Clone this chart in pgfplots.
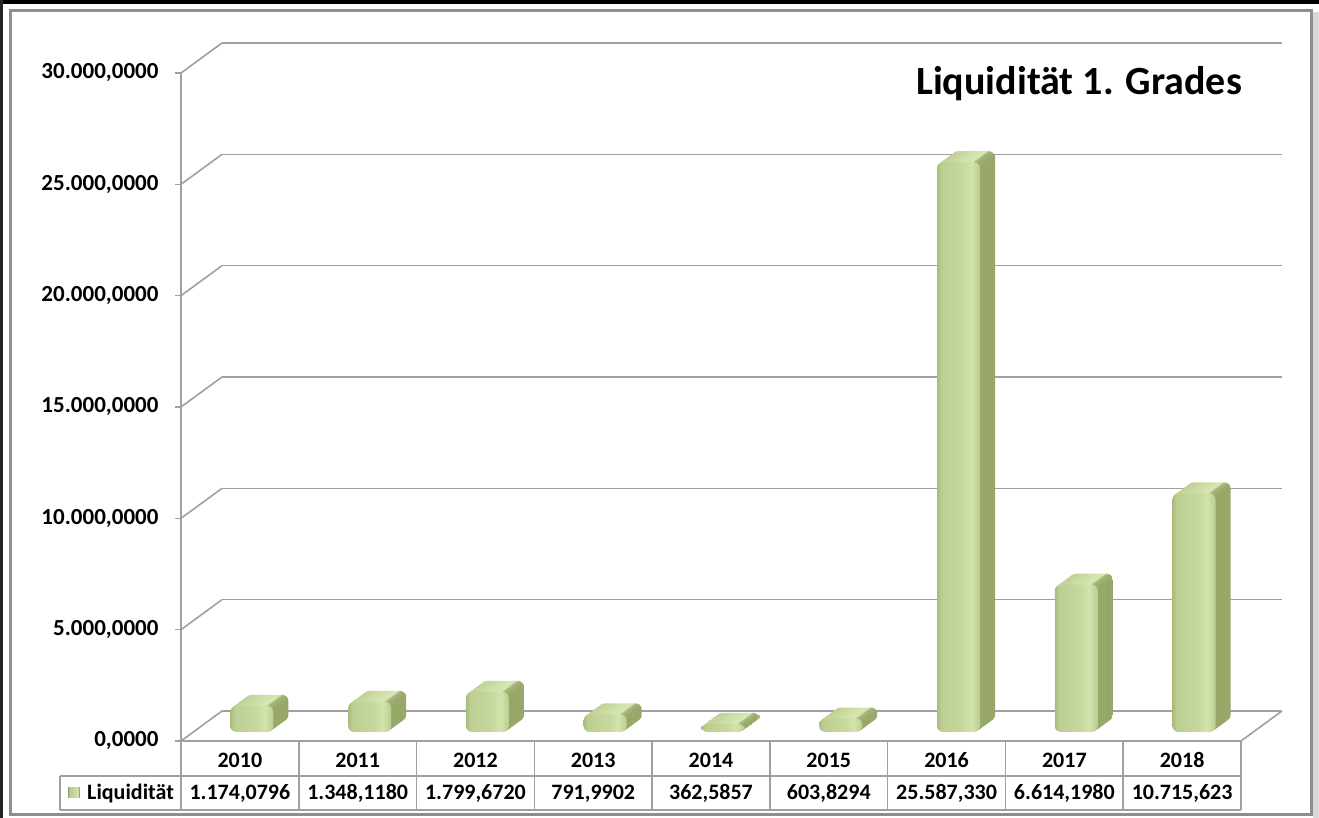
\documentclass[border=0pt]{standalone}
\usepackage{pgfplots}
\pgfplotsset{compat=1.18}
\usepackage{pgfplotstable}
\usepackage{fontspec}
\setmainfont{Carlito}
\definecolor{gridgray}{HTML}{A0A0A0}
\definecolor{framegray}{HTML}{8E8E8E}
\definecolor{fA}{HTML}{A8BC7C}
\definecolor{fB}{HTML}{BCCF91}
\definecolor{fC}{HTML}{C6D89D}
\definecolor{fD}{HTML}{D3E3AD}
\definecolor{fE}{HTML}{BACD8F}
\definecolor{bA}{HTML}{BED092}
\definecolor{bB}{HTML}{D2E2AD}
\definecolor{bC}{HTML}{D9E7B6}
\definecolor{bD}{HTML}{A9BB7D}
\definecolor{bE}{HTML}{93A465}
\pgfdeclarehorizontalshading{barfront}{100bp}{color(0bp)=(fA); color(25bp)=(fA); color(30bp)=(fB); color(55bp)=(fC); color(65bp)=(fD); color(75bp)=(fE); color(100bp)=(fE)}
\pgfdeclarehorizontalshading{barback}{100bp}{color(0bp)=(bA); color(25bp)=(bA); color(55bp)=(bB); color(65bp)=(bC); color(67bp)=(bD); color(75bp)=(bE); color(100bp)=(bE)}

\pgfplotstableread{
x y
0.5 1174.0796
1.5 1348.1180
2.5 1799.6720
3.5 791.9902
4.5 362.5857
5.5 603.8294
6.5 25587.330
7.5 6614.1980
8.5 10715.623
}\liqdata

\pgfplotsset{
  base3d/.style={anchor=south west, scale only axis, width=1060pt, height=668pt,
    xmin=0, xmax=9, ymin=0, ymax=30000, clip=false}
}

% one depth layer of the 3D bars (each bar its own plot so that it is shaded on its own)
\newcommand{\barlayer}[3]{%
  \begin{axis}[base3d, at={(#1pt,#2pt)}, hide axis]
    \pgfplotsinvokeforeach{0,...,8}{%
      \addplot[ybar, bar width=43pt, bar shift=0pt, draw=none, shading=#3,
        rounded corners=6pt, restrict x to domain=##1.4:##1.6]
        table[x=x, y=y] {\liqdata};
    }
  \end{axis}}

\begin{document}
\begin{tikzpicture}[x=1pt,y=1pt]
\useasboundingbox (0,0) rectangle (1319,818);
\fill[white] (0,0) rectangle (1319,818);
% outer black lines
\fill[black] (0,813.5) rectangle (1319,818);
\fill[black!85] (0,0) rectangle (3,818);
% frame with shadow
\fill[black!15] (1313,0) rectangle (1319,806);
\draw[framegray, line width=3pt] (10.5,3) rectangle (1311.5,807.5);

% back wall grid
\begin{axis}[base3d, at={(222pt,107pt)},
  axis line style={draw=none}, xtick=\empty, scaled y ticks=false,
  ytick={0,5000,...,30000}, yticklabels={}, major tick length=0pt,
  ymajorgrids, grid style={gridgray, line width=1.6pt}]
\end{axis}

% side wall diagonals and floor
\foreach \i in {0,...,6}
  \draw[gridgray, line width=1.6pt] (181,77+\i*111.33333) -- ++(41,30);
\draw[gridgray, line width=1.6pt] (1241,77) -- (1282,107);

% bars, drawn as depth layers from back to front
\foreach \k in {0,...,10}{%
  \pgfmathsetmacro\dx{208-1.3636*\k}%
  \pgfmathsetmacro\dy{97-\k}%
  \barlayer{\dx}{\dy}{barback}}
\barlayer{193}{86}{barfront}

% front axis with tick labels
\begin{axis}[base3d, at={(181pt,77pt)},
  axis x line=none, axis y line=left,
  axis line style={-, draw=gridgray, line width=1.6pt},
  xtick=\empty, scaled y ticks=false,
  ytick={0,5000,...,30000},
  yticklabels={{0,0000},{5.000,0000},{10.000,0000},{15.000,0000},{20.000,0000},{25.000,0000},{30.000,0000}},
  tick align=outside, major tick length=6pt,
  ytick style={draw=gridgray, line width=1.6pt},
  yticklabel style={font=\fontsize{23}{25}\selectfont\bfseries, text=black, xshift=-13pt}]
\end{axis}

% title
\node[anchor=base east, inner sep=0pt, font=\fontsize{40}{44}\selectfont\bfseries] at (1242,723) {Liquidität 1. Grades};

% data table
\def\cw{117.77778}
\draw[gridgray, line width=1.6pt] (181,77) -- (1241,77);
\draw[gridgray, line width=1.6pt] (60,42) -- (1241,42);
\draw[gridgray, line width=1.6pt] (60,8) -- (1241,8);
\draw[gridgray, line width=1.6pt] (60,8) -- (60,42);
\foreach \i in {0,...,9}
  \draw[gridgray, line width=1.6pt] (181+\i*\cw,8) -- (181+\i*\cw,77);
\foreach \yr [count=\i from 0] in {2010,2011,2012,2013,2014,2015,2016,2017,2018}
  \node[anchor=base, inner sep=0pt, font=\fontsize{22}{24}\selectfont\bfseries] at (181+\cw*\i+\cw/2,50) {\yr};
\foreach \v [count=\i from 0] in {{1.174,0796},{1.348,1180},{1.799,6720},{791,9902},{362,5857},{603,8294},{25.587,330},{6.614,1980},{10.715,623}}
  \node[anchor=base, inner sep=0pt, font=\fontsize{22}{24}\selectfont\bfseries] at (181+\cw*\i+\cw/2,18) {\v};
\fill[bE] (68,20) rectangle (80,31);
\shade[shading=barfront] (68.8,20.8) rectangle (79.2,30.2);
\node[anchor=base west, inner sep=0pt, font=\fontsize{22}{24}\selectfont\bfseries] at (87,18) {Liquidität};
\end{tikzpicture}
\end{document}
